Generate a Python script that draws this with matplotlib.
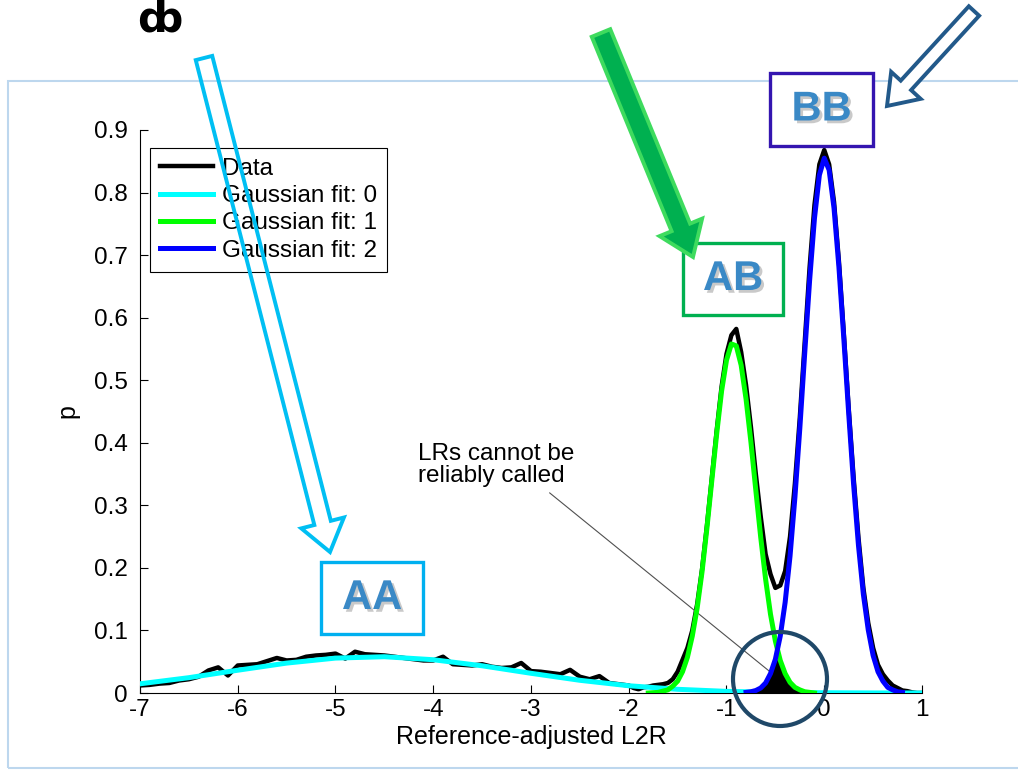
import numpy as np
import matplotlib
matplotlib.use('Agg')
import matplotlib.pyplot as plt
import matplotlib.patches as mpatches
import matplotlib.patheffects as pe
from matplotlib.transforms import IdentityTransform

plt.rcParams['font.family'] = ['Liberation Sans', 'DejaVu Sans']

# ---- data ----
# broad component (fit 0) on a coarse grid
x_fit0 = np.arange(-7.0, 1.01, 0.5)
fit0 = [0.0147, 0.0245, 0.0364, 0.0478, 0.0558, 0.0580, 0.0532, 0.0435, 0.0315,
        0.0203, 0.0116, 0.0059, 0.0026, 0.0011, 0.0004, 0.0001, 0.0]

# peak region grid, shared by fits 1, 2 and the right part of the data
x_pk = np.round(np.arange(-1.95, 1.001, 0.05), 2)
fit1 = [None, None, None, 0.000, 0.0005, 0.001, 0.003, 0.005, 0.011, 0.019,
        0.034, 0.057, 0.091, 0.136, 0.194, 0.264, 0.340, 0.415, 0.483, 0.532,
        0.558, 0.555, 0.524, 0.470, 0.401, 0.324, 0.249, 0.182, 0.126, 0.083,
        0.052, 0.031, 0.017, 0.009, 0.005, 0.002, 0.001, 0.000, None, None,
        None, None, None, None, None, None, None, None, None, None,
        None, None, None, None, None, None, None, None, None, None]
fit2 = [None, None, None, None, None, None, None, None, None, None,
        None, None, None, None, None, None, None, None, None, None,
        None, None, None, 0.001, 0.002, 0.004, 0.008, 0.016, 0.031, 0.054,
        0.091, 0.145, 0.219, 0.313, 0.423, 0.543, 0.659, 0.759, 0.828, 0.855,
        0.836, 0.775, 0.681, 0.567, 0.447, 0.334, 0.236, 0.158, 0.101, 0.060,
        0.034, 0.019, 0.009, 0.005, 0.002, 0.001, None, None, None, None]

# measured histogram (black)
x_data_left = np.round(np.arange(-7.0, -1.99, 0.1), 2)
data_left = [0.012, 0.013, 0.015, 0.016, 0.020, 0.022, 0.026, 0.036, 0.041, 0.028,
             0.044, 0.045, 0.046, 0.051, 0.056, 0.052, 0.053, 0.058, 0.060, 0.061,
             0.063, 0.055, 0.066, 0.062, 0.061, 0.060, 0.058, 0.056, 0.054, 0.052,
             0.052, 0.058, 0.046, 0.045, 0.044, 0.046, 0.042, 0.040, 0.041, 0.048,
             0.035, 0.034, 0.032, 0.030, 0.037, 0.026, 0.022, 0.027, 0.016, 0.014,
             0.012]
data_right = [0.008, 0.006, 0.009, 0.010, 0.012, 0.013, 0.014, 0.016, 0.022, 0.034,
              0.053, 0.072, 0.100, 0.142, 0.198, 0.268, 0.344, 0.420, 0.490, 0.542,
              0.572, 0.582, 0.545, 0.492, 0.425, 0.350, 0.282, 0.222, 0.190, 0.168,
              0.172, 0.195, 0.250, 0.335, 0.440, 0.560, 0.680, 0.780, 0.845, 0.868,
              0.845, 0.785, 0.690, 0.575, 0.455, 0.345, 0.248, 0.168, 0.112, 0.072,
              0.045, 0.030, 0.020, 0.012, 0.008, 0.004, 0.003, 0.001, 0.0, 0.0]

x_ticks = [-7, -6, -5, -4, -3, -2, -1, 0, 1]
y_ticks = [0, 0.1, 0.2, 0.3, 0.4, 0.5, 0.6, 0.7, 0.8, 0.9]
y_tick_labels = ['0', '0.1', '0.2', '0.3', '0.4', '0.5', '0.6', '0.7', '0.8', '0.9']
labels = ['Data', 'Gaussian fit: 0', 'Gaussian fit: 1', 'Gaussian fit: 2']

W, H = 1018, 772
fig = plt.figure(figsize=(W / 100, H / 100), dpi=100)
ax = fig.add_axes([140 / W, 1 - 693 / H, 782 / W, 563 / H])
ax.set_facecolor('none')

fit1 = np.array(fit1, dtype=float)
fit2 = np.array(fit2, dtype=float)
x_data = np.concatenate([x_data_left, x_pk])
data = np.concatenate([data_left, data_right])

ax.plot(x_data, data, color='black', lw=3.2, label=labels[0], zorder=2)
ax.plot(x_fit0, fit0, color='#00FFFF', lw=3.6, label=labels[1], zorder=3)
both = ~np.isnan(fit1) & ~np.isnan(fit2)
ax.fill_between(x_pk[both], 0, np.minimum(fit1, fit2)[both], color='black', lw=0, zorder=3.5)
ax.plot(x_pk, fit1, color='#00FF00', lw=3.6, label=labels[2], zorder=4)
ax.plot(x_pk, fit2, color='#0000FF', lw=3.6, label=labels[3], zorder=5)

ax.set_xlim(-7, 1)
ax.set_ylim(0, 0.9)
ax.set_xticks(x_ticks)
ax.set_xticklabels([str(t) for t in x_ticks])
ax.set_yticks(y_ticks)
ax.set_yticklabels(y_tick_labels)
ax.spines['top'].set_visible(False)
ax.spines['right'].set_visible(False)
ax.tick_params(direction='in', length=6, width=0.8, labelsize=17.5)
ax.tick_params(axis='y', pad=9)
ax.tick_params(axis='x', pad=4)
ax.set_xlabel('Reference-adjusted L2R', fontsize=18, labelpad=3)
ax.set_ylabel('p', fontsize=18, labelpad=10)

leg = ax.legend(loc='upper left', bbox_to_anchor=(10 / 782, 1 - 18 / 563), borderaxespad=0,
                fancybox=False, edgecolor='black', framealpha=1, fontsize=17.5,
                borderpad=0.4, labelspacing=0.22, handlelength=2.2, handletextpad=0.35)
leg.get_frame().set_linewidth(0.8)

# annotation about the overlap
ax.text(-4.16, 0.40, 'LRs cannot be\nreliably called', fontsize=17.5, va='top', ha='left',
        linespacing=1.0)
ax.annotate('', xy=(-0.555, 0.034), xytext=(-2.81, 0.32),
            arrowprops=dict(arrowstyle='-', color='#505050', lw=0.8, shrinkA=0, shrinkB=0))

# ---- slide decorations, placed in pixel coordinates ----
T = IdentityTransform()


def block_arrow(tail, tip, width, head_width, head_length, **kw):
    x0, y0 = tail[0], H - tail[1]
    x1, y1 = tip[0], H - tip[1]
    a = mpatches.FancyArrow(x0, y0, x1 - x0, y1 - y0, width=width, head_width=head_width,
                            head_length=head_length, length_includes_head=True,
                            transform=T, **kw)
    fig.add_artist(a)


def label_box(x0, y0, x1, y1, text, edge):
    r = mpatches.Rectangle((x0, H - y1), x1 - x0, y1 - y0, transform=T, fill=True,
                           facecolor='white', edgecolor=edge, lw=2.4, zorder=2)
    fig.add_artist(r)
    fig.text((x0 + x1) / 2 / W, 1 - (y0 + y1) / 2 / H, text, ha='center', va='center',
             fontsize=30, fontweight='bold', color='#3A89C6', zorder=3,
             path_effects=[pe.SimplePatchShadow(offset=(2, -2), shadow_rgbFace='#888888', alpha=0.45),
                           pe.Normal()])


# slide frame
fig.add_artist(mpatches.Rectangle((8, H - 768), 1040, 687, transform=T, fill=False,
                                  edgecolor='#BDD7EE', lw=1.5, zorder=0))

block_arrow((204, 58), (330, 552), 17, 44, 30, facecolor='none', edgecolor='#00BFF3', lw=2.8, zorder=6)
block_arrow((601, 33), (693, 257), 20, 46, 32, facecolor='#00B050', edgecolor='#3EDB5E', lw=2.8, zorder=6)
block_arrow((974, 11), (887, 106), 14, 40, 28, facecolor='white', edgecolor='#22598A', lw=2.8, zorder=6)

label_box(321, 562, 423, 634, 'AA', '#00B0F0')
label_box(683, 243, 783, 315, 'AB', '#00B050')
label_box(770, 73, 873, 146, 'BB', '#3415B0')

fig.add_artist(mpatches.Circle((780, H - 679), 47, transform=T, fill=False,
                               edgecolor='#1F4868', lw=3, zorder=7))

fig.text(160 / W, 1 - 19 / H, '\u0238', fontsize=30, fontweight='bold', ha='center', va='center',
         family=['DejaVu Sans'])

fig.savefig('out.png', dpi=100)
